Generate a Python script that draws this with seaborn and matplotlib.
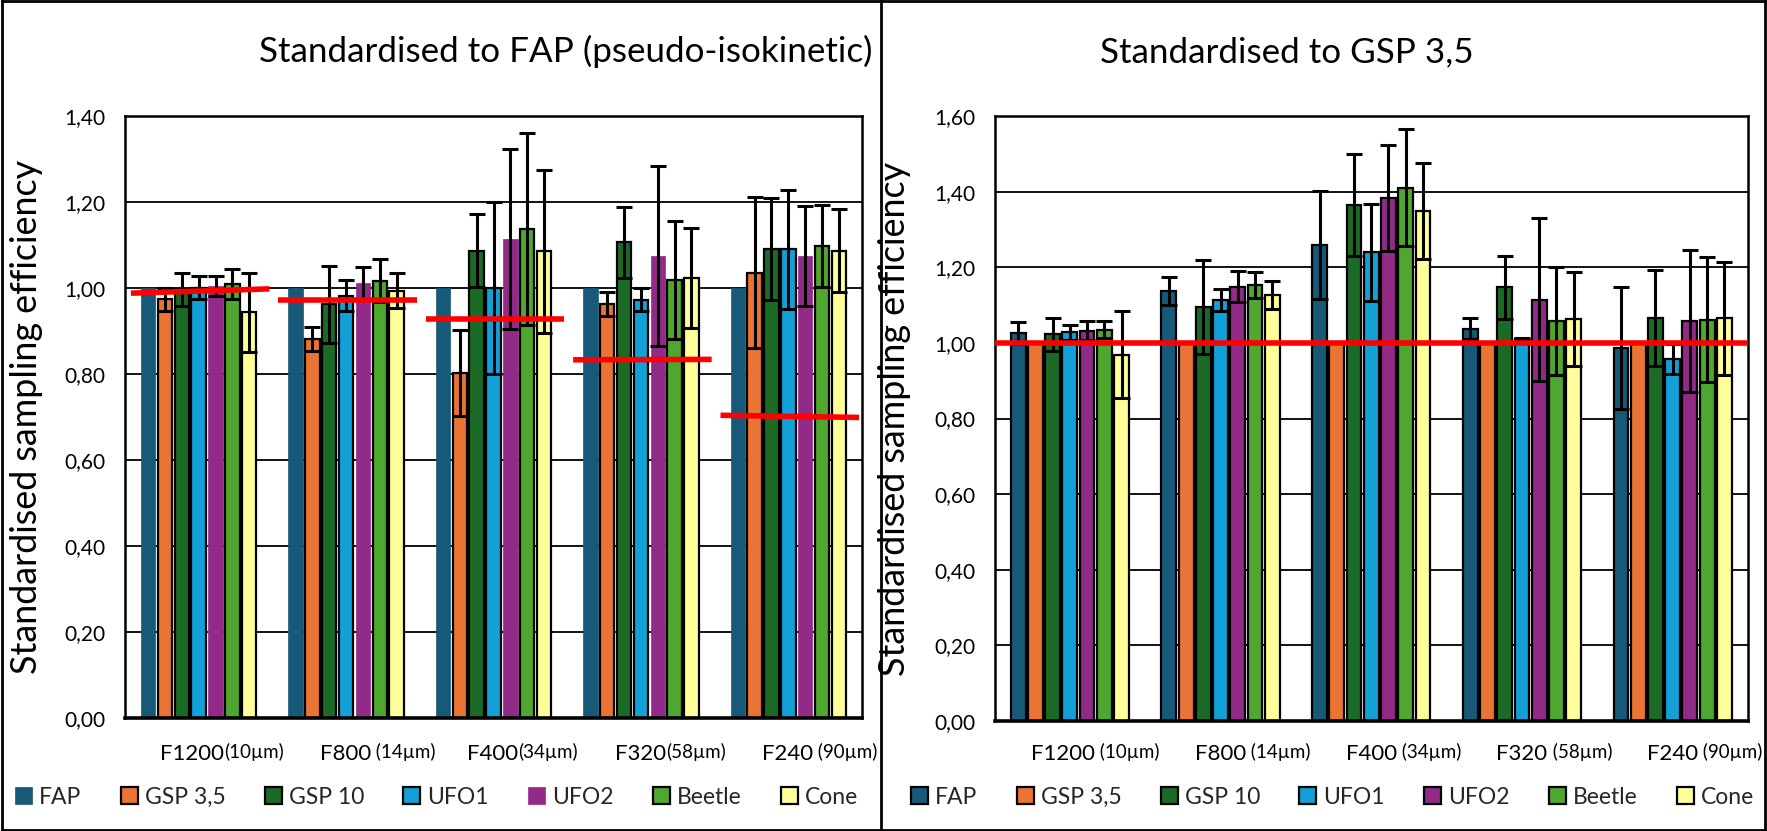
import numpy as np
import pandas as pd
import matplotlib
matplotlib.use("Agg")
import matplotlib.pyplot as plt
import matplotlib.transforms as mtransforms
from matplotlib.lines import Line2D
from matplotlib.ticker import FuncFormatter, MultipleLocator
import seaborn as sns

# ---------------- data ----------------
grades = ["F1200", "F800", "F400", "F320", "F240"]
sizes_left = ["(10µm)", " (14µm)", "(34µm)", "(58µm)", " (90µm)"]
sizes_right = [" (10µm)", " (14µm)", " (34µm)", " (58µm)", " (90µm)"]
samplers = ["FAP", "GSP 3,5", "GSP 10", "UFO1", "UFO2", "Beetle", "Cone"]

# Left panel: standardised to FAP
left_fap = [1.00, 1.00, 1.00, 1.00, 1.00]
left_gsp35 = [0.974, 0.881, 0.802, 0.963, 1.036]
left_gsp10 = [0.997, 0.962, 1.087, 1.106, 1.090]
left_ufo1 = [1.001, 0.982, 1.000, 0.973, 1.090]
left_ufo2 = [1.005, 1.012, 1.114, 1.074, 1.074]
left_beetle = [1.009, 1.017, 1.137, 1.018, 1.097]
left_cone = [0.944, 0.994, 1.085, 1.023, 1.087]

left_fap_err = [0, 0, 0, 0, 0]
left_gsp35_err = [0.027, 0.028, 0.100, 0.027, 0.176]
left_gsp10_err = [0.038, 0.090, 0.085, 0.082, 0.119]
left_ufo1_err = [0.026, 0.036, 0.200, 0.027, 0.138]
left_ufo2_err = [0.023, 0.038, 0.210, 0.210, 0.117]
left_beetle_err = [0.035, 0.050, 0.223, 0.137, 0.095]
left_cone_err = [0.092, 0.040, 0.190, 0.117, 0.096]

# red reference lines in left panel (start / end value per grade)
left_ref_start = [0.988, 0.972, 0.929, 0.833, 0.704]
left_ref_end = [0.998, 0.972, 0.929, 0.834, 0.699]

# Right panel: standardised to GSP 3,5
right_fap = [1.026, 1.136, 1.259, 1.037, 0.986]
right_gsp35 = [1.00, 1.00, 1.00, 1.00, 1.00]
right_gsp10 = [1.023, 1.094, 1.365, 1.147, 1.065]
right_ufo1 = [1.028, 1.114, 1.240, 1.011, 0.958]
right_ufo2 = [1.032, 1.148, 1.383, 1.114, 1.058]
right_beetle = [1.035, 1.153, 1.410, 1.057, 1.061]
right_cone = [0.969, 1.127, 1.349, 1.063, 1.065]

right_fap_err = [0.030, 0.037, 0.142, 0.028, 0.161]
right_gsp35_err = [0, 0, 0, 0, 0]
right_gsp10_err = [0.044, 0.124, 0.135, 0.084, 0.127]
right_ufo1_err = [0.020, 0.029, 0.128, 0.003, 0.040]
right_ufo2_err = [0.025, 0.041, 0.140, 0.216, 0.187]
right_beetle_err = [0.022, 0.035, 0.155, 0.143, 0.165]
right_cone_err = [0.114, 0.037, 0.128, 0.125, 0.150]

right_ref = 1.00

colors = ["#175979", "#EA7433", "#1B6A25", "#12A0D6", "#922A88", "#4FA72F", "#FFFF99"]

# ---------------- style ----------------
sns.set_theme(style="white")
plt.rcParams["font.family"] = ["Lato", "DejaVu Sans"]

W, H = 1767, 831
fig = plt.figure(figsize=(W / 100, H / 100), dpi=100)


def fx(px):
    return px / W


def fy(py):
    return 1 - py / H


def build_df(vals, errs):
    rows = []
    for s, v, e in zip(samplers, vals, errs):
        for g, vv, ee in zip(grades, v, e):
            rows.append({"grade": g, "sampler": s, "value": vv, "err": ee})
    return pd.DataFrame(rows)


def draw_panel(ax, df, no_edge, ymax, sizes):
    sns.barplot(data=df, x="grade", y="value", hue="sampler", order=grades,
                hue_order=samplers, palette=colors, width=0.8, gap=0.14,
                errorbar=None, ax=ax, legend=False, saturation=1)
    bar_containers = list(ax.containers)
    for s, cont in zip(samplers, bar_containers):
        for p in cont.patches:
            if s in no_edge:
                p.set_edgecolor(p.get_facecolor())
                p.set_linewidth(0.5)
            else:
                p.set_edgecolor("black")
                p.set_linewidth(1.6)
            p.set_zorder(2)
    # error bars
    for s, cont in zip(samplers, bar_containers):
        sub = df[df.sampler == s].set_index("grade").loc[grades]
        errs = sub["err"].values
        if np.all(errs == 0):
            continue
        xs = [p.get_x() + p.get_width() / 2 for p in cont.patches]
        ys = [p.get_height() for p in cont.patches]
        ax.errorbar(xs, ys, yerr=errs, fmt="none", ecolor="black",
                    elinewidth=2.2, capsize=6, capthick=2.2, zorder=3)
    ax.set_ylim(0, ymax)
    ax.set_xlim(-0.5, len(grades) - 0.5)
    ax.yaxis.set_major_locator(MultipleLocator(0.2))
    ax.yaxis.set_major_formatter(FuncFormatter(lambda v, _: f"{v:.2f}".replace(".", ",")))
    ax.grid(axis="y", color="black", linewidth=1.3)
    ax.set_axisbelow(True)
    for sp in ["left", "top", "right"]:
        ax.spines[sp].set_color("black")
        ax.spines[sp].set_linewidth(1.8)
    ax.spines["bottom"].set_color("black")
    ax.spines["bottom"].set_linewidth(2.6)
    ax.tick_params(axis="y", length=0, pad=14, labelsize=15, labelcolor="black")
    ax.tick_params(axis="x", length=0, labelbottom=False)
    ax.set_xlabel("")
    ax.set_ylabel("Standardised sampling efficiency", fontsize=25.8, color="black")
    ax.yaxis.set_label_coords(-0.111, 0.5)
    # category labels
    tr = mtransforms.blended_transform_factory(ax.transData, fig.transFigure)
    for i, (g, sz) in enumerate(zip(grades, sizes)):
        ax.text(i + 0.17, fy(760), g, transform=tr, ha="right", va="baseline",
                fontsize=16, color="black")
        ax.text(i + 0.17, fy(758), sz, transform=tr, ha="left", va="baseline",
                fontsize=13.5, color="black")
    return bar_containers


# ---------------- left panel ----------------
axL = fig.add_axes([fx(125), fy(718), fx(862 - 125), (718 - 116) / H])
dfL = build_df([left_fap, left_gsp35, left_gsp10, left_ufo1, left_ufo2, left_beetle, left_cone],
               [left_fap_err, left_gsp35_err, left_gsp10_err, left_ufo1_err, left_ufo2_err,
                left_beetle_err, left_cone_err])
contL = draw_panel(axL, dfL, no_edge={"FAP", "UFO2"}, ymax=1.40, sizes=sizes_left)
for i, (a, b) in enumerate(zip(left_ref_start, left_ref_end)):
    axL.plot([i - 0.46, i + 0.48], [a, b], color="#FF0000", lw=4, zorder=5,
             solid_capstyle="butt")

# ---------------- right panel ----------------
axR = fig.add_axes([fx(994.5), fy(721), fx(1748 - 994.5), (721 - 116) / H])
dfR = build_df([right_fap, right_gsp35, right_gsp10, right_ufo1, right_ufo2, right_beetle, right_cone],
               [right_fap_err, right_gsp35_err, right_gsp10_err, right_ufo1_err, right_ufo2_err,
                right_beetle_err, right_cone_err])
contR = draw_panel(axR, dfR, no_edge=set(), ymax=1.60, sizes=sizes_right)
axR.axhline(right_ref, color="#FF0000", lw=4, zorder=5)

# ---------------- titles ----------------
fig.text(fx(566), fy(62), "Standardised to FAP (pseudo-isokinetic)", ha="center",
         va="baseline", fontsize=25.2, color="black")
fig.text(fx(1287), fy(62), "Standardised to GSP 3,5", ha="center",
         va="baseline", fontsize=25.2, color="black")

# ---------------- legends ----------------
legkw = dict(loc="center", ncol=7, mode="expand", frameon=False, fontsize=16.5,
             handlelength=0.75, handleheight=0.75, handletextpad=0.3,
             borderaxespad=0, borderpad=0)
fig.legend(contL, samplers, bbox_to_anchor=(fx(15), fy(815), fx(858 - 15), 36 / H),
           bbox_transform=fig.transFigure, **legkw)
fig.legend(contR, samplers, bbox_to_anchor=(fx(911), fy(815), fx(1754 - 911), 36 / H),
           bbox_transform=fig.transFigure, **legkw)

# ---------------- panel frames ----------------
for xx in [2, 880.5, 1764.5]:
    fig.add_artist(Line2D([fx(xx), fx(xx)], [0, 1], color="black", lw=2,
                          transform=fig.transFigure))
for yy in [1, 830]:
    fig.add_artist(Line2D([fx(2), fx(1764.5)], [fy(yy), fy(yy)], color="black", lw=2,
                          transform=fig.transFigure))

fig.savefig("out.png", dpi=100, facecolor="white")
